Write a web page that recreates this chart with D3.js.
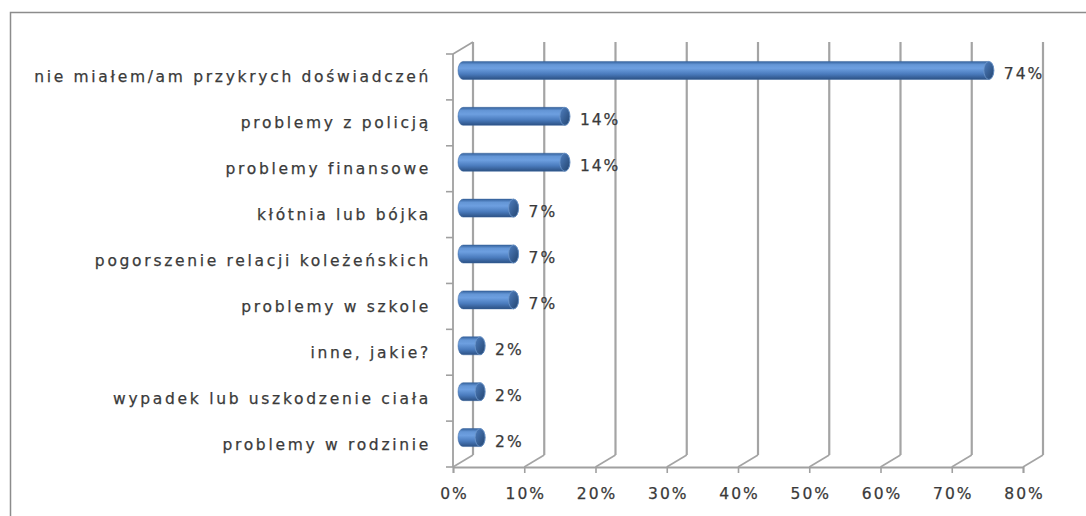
<!DOCTYPE html>
<html>
<head>
<meta charset="UTF-8">
<script src="https://d3js.org/d3.v7.min.js"></script>
<style>
    body { margin: 0; background: #fff; }
    svg { display: block; }
    text { font-family: 'DejaVu Sans', Verdana, sans-serif; fill: #3a3a3a; stroke: #3a3a3a; stroke-width: 0.25px; }
</style>
</head>
<body>
<svg id="chart" width="1086" height="516"></svg>
<script>
    // data
    const categories = [
        'nie miałem/am przykrych doświadczeń',
        'problemy z policją',
        'problemy finansowe',
        'kłótnia lub bójka',
        'pogorszenie relacji koleżeńskich',
        'problemy w szkole',
        'inne, jakie?',
        'wypadek lub uszkodzenie ciała',
        'problemy w rodzinie'
    ]
    const values = [73.8, 14.3, 14.3, 7.1, 7.1, 7.1, 2.4, 2.4, 2.4]
    const valueLabels = ['74%', '14%', '14%', '7%', '7%', '7%', '2%', '2%', '2%']
    const tickValues = [0, 10, 20, 30, 40, 50, 60, 70, 80]

    const svg = d3.select('#chart')

    // chart frame (runs off the right and bottom edges)
    svg.append('rect')
        .attr('x', 10.5).attr('y', 12.5)
        .attr('width', 1200).attr('height', 600)
        .style('fill', 'none')
        .style('stroke', '#8c8c8c')
        .style('stroke-width', 1.5)

    // front plane of the 3d box
    const xScale = d3.scaleLinear().domain([0, 80]).range([453, 1023])
    const yScale = d3.scaleBand().domain(categories).range([54, 467])

    const depthX = 20, depthY = -12
    const plotTop = yScale.range()[0], plotBottom = yScale.range()[1]

    const defs = svg.append('defs')
    const grad = defs.append('linearGradient')
        .attr('id', 'barGrad').attr('x1', 0).attr('y1', 0).attr('x2', 0).attr('y2', 1)
    grad.append('stop').attr('offset', '0%').attr('stop-color', '#34619c')
    grad.append('stop').attr('offset', '18%').attr('stop-color', '#6496d6')
    grad.append('stop').attr('offset', '38%').attr('stop-color', '#6d9fe0')
    grad.append('stop').attr('offset', '70%').attr('stop-color', '#4a7bbd')
    grad.append('stop').attr('offset', '100%').attr('stop-color', '#2c5184')

    const capGrad = defs.append('linearGradient')
        .attr('id', 'capGrad').attr('x1', 0).attr('y1', 0).attr('x2', 1).attr('y2', 1)
    capGrad.append('stop').attr('offset', '0%').attr('stop-color', '#4f7fc0')
    capGrad.append('stop').attr('offset', '100%').attr('stop-color', '#23446f')

    const grid = svg.append('g')

    // back wall gridlines + floor diagonals
    tickValues.forEach(t => {
        const x = xScale(t)
        grid.append('line')
            .attr('x1', x + depthX).attr('x2', x + depthX)
            .attr('y1', plotTop + depthY).attr('y2', plotBottom + depthY)
            .style('stroke', '#a4a4a4').style('stroke-width', 2.2)
        grid.append('line')
            .attr('x1', x).attr('y1', plotBottom)
            .attr('x2', x + depthX).attr('y2', plotBottom + depthY)
            .style('stroke', '#a4a4a4').style('stroke-width', 1.6)
    })

    // left wall: front axis and top diagonal
    grid.append('line')
        .attr('x1', xScale(0)).attr('x2', xScale(0))
        .attr('y1', plotTop).attr('y2', plotBottom)
        .style('stroke', '#a0a0a0').style('stroke-width', 1.8)
    grid.append('line')
        .attr('x1', xScale(0)).attr('y1', plotTop)
        .attr('x2', xScale(0) + depthX).attr('y2', plotTop + depthY)
        .style('stroke', '#a0a0a0').style('stroke-width', 1.6)

    // bottom axis
    const xAxis = d3.axisBottom(xScale)
        .tickValues(tickValues)
        .tickSize(6)
        .tickPadding(15)
        .tickFormat(d => d + '%')
    const gx = svg.append('g')
        .attr('transform', `translate(0,${plotBottom})`)
        .call(xAxis)
    gx.select('.domain').style('stroke', '#a0a0a0').style('stroke-width', 1.8)
    gx.selectAll('.tick line').style('stroke', '#a0a0a0').style('stroke-width', 1.6)
    gx.selectAll('.tick text')
        .style('font-size', '15.5px')
        .style('letter-spacing', '2px')
        .style('fill', '#3a3a3a')
        .style('font-family', "'DejaVu Sans', Verdana, sans-serif")
        .attr('dx', '1px')

    // left axis ticks at category boundaries
    const bounds = categories.map(c => yScale(c)).concat([plotBottom])
    svg.append('g').selectAll('line')
        .data(bounds)
        .enter()
        .append('line')
        .attr('x1', xScale(0) - 7).attr('x2', xScale(0))
        .attr('y1', d => d).attr('y2', d => d)
        .style('stroke', '#a0a0a0').style('stroke-width', 1.6)

    // category labels
    svg.append('g').selectAll('text')
        .data(categories)
        .enter()
        .append('text')
        .attr('x', 431)
        .attr('y', d => yScale(d) + yScale.bandwidth() / 2 + 5.5)
        .attr('text-anchor', 'end')
        .style('font-size', '15.5px')
        .style('letter-spacing', '2.7px')
        .text(d => d)

    // cylinders
    const barOffX = 10, barOffY = -6.5, ry = 9, rx = 5
    const bars = svg.append('g')
    categories.forEach((c, i) => {
        const yc = yScale(c) + yScale.bandwidth() / 2 + barOffY
        const x0 = xScale(0) + barOffX
        const x1 = xScale(values[i]) + barOffX
        bars.append('path')
            .attr('d', `M${x0},${yc - ry} L${x1},${yc - ry} A${rx},${ry} 0 0 1 ${x1},${yc + ry} L${x0},${yc + ry} A${rx},${ry} 0 0 1 ${x0},${yc - ry} Z`)
            .style('fill', 'url(#barGrad)')
            .style('stroke', '#3a659c')
            .style('stroke-width', 0.5)
        bars.append('ellipse')
            .attr('cx', x1).attr('cy', yc)
            .attr('rx', rx).attr('ry', ry)
            .style('fill', 'url(#capGrad)')
            .style('stroke', '#6f98cc')
            .style('stroke-width', 0.8)
        svg.append('text')
            .attr('x', x1 + rx + 10)
            .attr('y', yc + 9)
            .style('font-size', '15.5px')
            .style('letter-spacing', '2px')
            .text(valueLabels[i])
    })
</script>
</body>
</html>
